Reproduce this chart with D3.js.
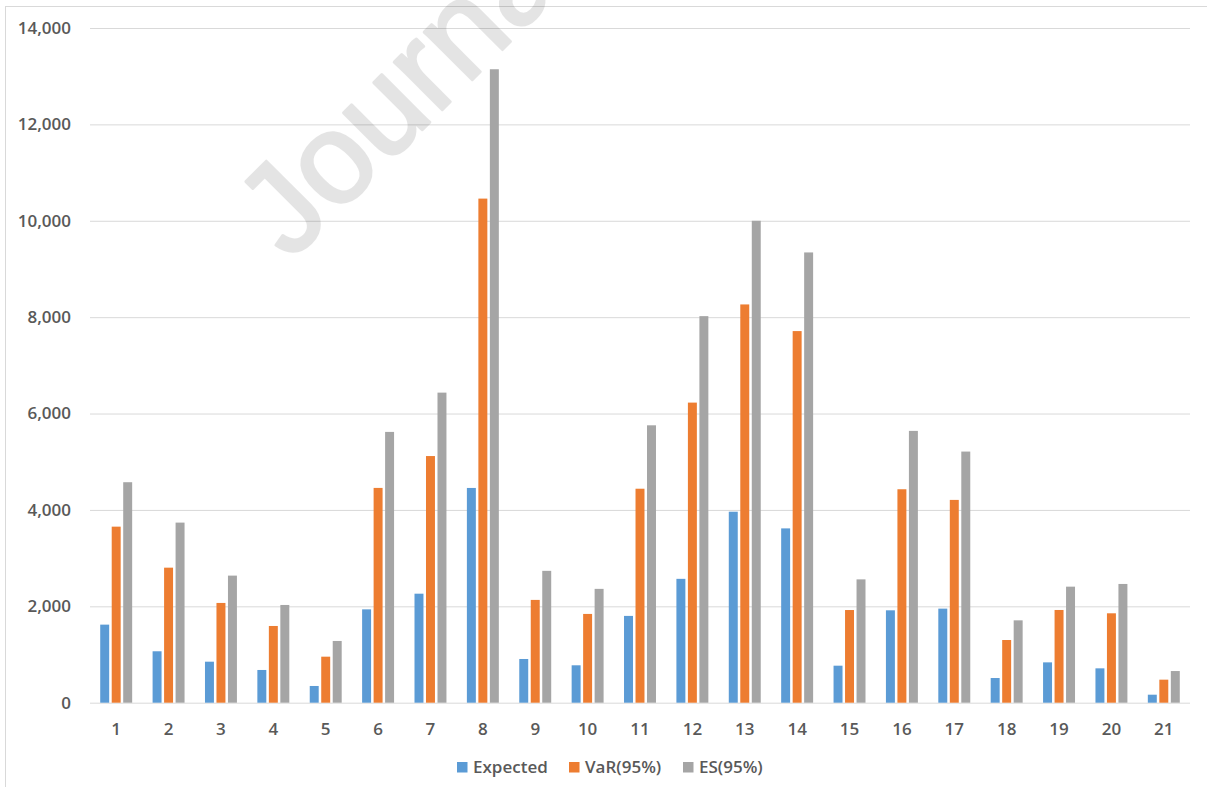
<!DOCTYPE html>
<html>
<head>
<meta charset="utf-8">
<script src="https://cdn.jsdelivr.net/npm/d3@7"></script>
<style>
  html, body { margin: 0; padding: 0; background: #ffffff; }
  svg { display: block; }
</style>
</head>
<body>
<svg id="chart" width="1207" height="787"></svg>
<script>
// Portfolio loss measures by scenario
const categories = ["1","2","3","4","5","6","7","8","9","10","11","12","13","14","15","16","17","18","19","20","21"];
const seriesNames = ["Expected", "VaR(95%)", "ES(95%)"];
const expected = [1620, 1067, 851, 679, 347, 1937, 2262, 4456, 907, 776, 1801, 2570, 3963, 3617, 768, 1917, 1952, 512, 837, 713, 166];
const var95    = [3653, 2802, 2070, 1592, 955, 4457, 5118, 10460, 2133, 1842, 4440, 6227, 8264, 7711, 1923, 4429, 4208, 1301, 1924, 1855, 478];
const es95     = [4575, 3737, 2637, 2028, 1281, 5619, 6434, 13144, 2736, 2362, 5756, 8021, 10000, 9343, 2559, 5640, 5211, 1709, 2408, 2464, 657];
const yTicks = [0, 2000, 4000, 6000, 8000, 10000, 12000, 14000];
const colors = ["#5B9BD5", "#ED7D31", "#A5A5A5"];

const seriesValues = [expected, var95, es95];
const rows = categories.map((c, i) => ({
  cat: c,
  values: seriesNames.map((s, k) => ({ series: s, value: seriesValues[k][i], color: colors[k] }))
}));

const svg = d3.select("#chart");
const plotLeft = 90, plotRight = 1190, plotTop = 28, plotBottom = 702.7;
const font = "'Open Sans', 'Liberation Sans', sans-serif";
const textColor = "#595959";

// chart frame
svg.append("rect")
  .attr("x", 5.5).attr("y", 6.5)
  .attr("width", 1300).attr("height", 900)
  .attr("fill", "#ffffff")
  .attr("stroke", "#d9d9d9").attr("stroke-width", 1);

const x0 = d3.scaleBand().domain(categories).range([plotLeft, plotRight])
  .paddingInner(0.39).paddingOuter(0.195);
const x1 = d3.scaleBand().domain(seriesNames).range([0, x0.bandwidth()])
  .paddingInner(0.22).paddingOuter(0);
const y = d3.scaleLinear().domain([0, 14000]).range([plotBottom, plotTop]);

// horizontal gridlines with value labels
const yAxis = svg.append("g")
  .attr("transform", `translate(${plotLeft},0)`)
  .call(d3.axisLeft(y).tickValues(yTicks).tickFormat(d3.format(","))
    .tickSizeInner(-(plotRight - plotLeft)).tickSizeOuter(0).tickPadding(19));
yAxis.select(".domain").remove();
yAxis.selectAll(".tick line").attr("stroke", "#d9d9d9").attr("stroke-width", 1);
yAxis.selectAll(".tick text")
  .attr("fill", textColor).style("font-family", font)
  .style("font-size", "17px").style("font-weight", 600);

// bars
const groups = svg.append("g").selectAll("g")
  .data(rows).join("g")
  .attr("transform", d => `translate(${x0(d.cat)},0)`);
groups.selectAll("rect")
  .data(d => d.values).join("rect")
  .attr("x", d => x1(d.series))
  .attr("width", x1.bandwidth())
  .attr("y", d => y(d.value))
  .attr("height", d => y(0) - y(d.value))
  .attr("fill", d => d.color);

// category axis
const xAxis = svg.append("g")
  .attr("transform", `translate(0,${plotBottom})`)
  .call(d3.axisBottom(x0).tickSize(0).tickPadding(20));
xAxis.select(".domain").remove();
xAxis.selectAll(".tick text")
  .attr("fill", textColor).style("font-family", font)
  .style("font-size", "17px").style("font-weight", 600);

// legend
const legendX = [457, 569, 683];
const legend = svg.append("g").selectAll("g")
  .data(seriesNames).join("g")
  .attr("transform", (d, i) => `translate(${legendX[i]},762)`);
legend.append("rect")
  .attr("width", 10.5).attr("height", 10.5)
  .attr("fill", (d, i) => colors[i]);
legend.append("text")
  .attr("x", 16).attr("y", 11)
  .attr("fill", textColor).style("font-family", font)
  .style("font-size", "17px").style("font-weight", 600)
  .text(d => d);

// diagonal watermark, translucent as a whole so fill and outline blend evenly
svg.append("g")
  .attr("opacity", 0.1)
  .append("text")
  .attr("transform", "translate(290,262) rotate(-45)")
  .style("font-family", "'Liberation Sans', Arial, sans-serif")
  .style("font-size", "128px")
  .attr("fill", "#000000")
  .attr("stroke", "#000000").attr("stroke-width", 3).attr("stroke-linejoin", "round")
  .text("Journal Pre-proof");
</script>
</body>
</html>
